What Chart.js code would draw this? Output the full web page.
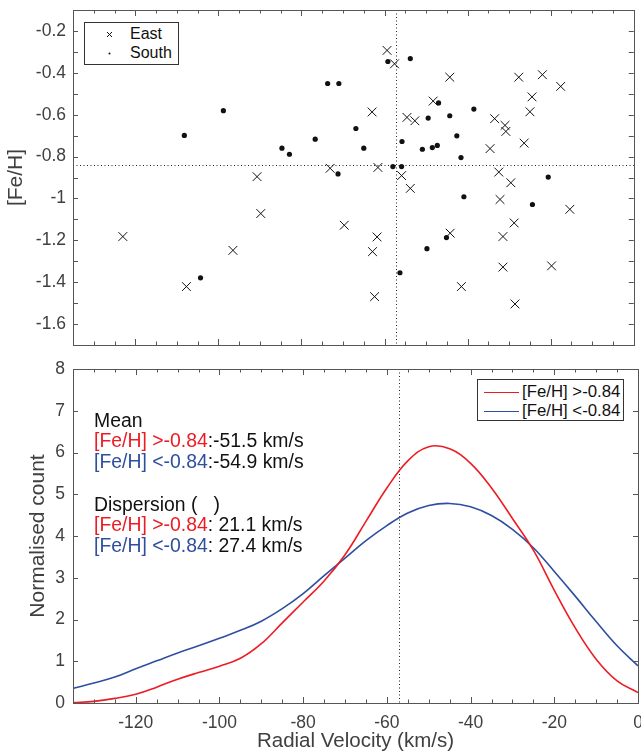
<!DOCTYPE html>
<html>
<head>
<meta charset="utf-8">
<script src="https://cdn.jsdelivr.net/npm/chart.js@4.4.1/dist/chart.umd.min.js"></script>
<style>
  body { margin: 0; background: #fff; font-family: 'Liberation Sans', Arial, Helvetica, sans-serif; }
  #wrap { position: relative; width: 641px; height: 752px; overflow: hidden; }
  canvas { position: absolute; left: 0; }
  .box { position: absolute; background: #fff; border: 1px solid #333; box-sizing: border-box; }
  .row { position: absolute; white-space: nowrap; color: #111; }
  .note { position: absolute; left: 94px; font-size: 19.4px; line-height: 20px; color: #111; white-space: nowrap; }
  .r { color: #ec1c24; }
  .b { color: #2e4f9f; }
</style>
</head>
<body>
<div id="wrap">
  <canvas id="scatter" width="641" height="355" style="top:0"></canvas>
  <canvas id="density" width="641" height="397" style="top:355px"></canvas>

  <div class="box" style="left:84px;top:22px;width:95px;height:43px;">
    <svg style="position:absolute;left:21px;top:8px" width="7" height="7"><path d="M1 1L6 6M6 1L1 6" stroke="#111" stroke-width="1"/></svg>
    <div class="row" style="left:45px;top:1px;font-size:16px;line-height:20px;">East</div>
    <svg style="position:absolute;left:22px;top:28px" width="5" height="5"><circle cx="2.5" cy="2.5" r="1" fill="#111"/></svg>
    <div class="row" style="left:45px;top:20px;font-size:16px;line-height:20px;">South</div>
  </div>

  <div class="box" style="left:477px;top:379px;width:147px;height:42px;">
    <div style="position:absolute;left:6px;top:12px;width:35px;border-top:1.5px solid #ec1c24;"></div>
    <div class="row" style="left:44px;top:2px;font-size:16.8px;line-height:20px;">[Fe/H] &gt;-0.84</div>
    <div style="position:absolute;left:6px;top:31px;width:35px;border-top:1.5px solid #2e4f9f;"></div>
    <div class="row" style="left:44px;top:21px;font-size:16.8px;line-height:20px;">[Fe/H] &lt;-0.84</div>
  </div>

  <div class="note" style="top:410px">Mean</div>
  <div class="note" style="top:430px"><span class="r">[Fe/H] &gt;-0.84</span>:-51.5 km/s</div>
  <div class="note" style="top:450.5px"><span class="b">[Fe/H] &lt;-0.84</span>:-54.9 km/s</div>
  <div class="note" style="top:494px">Dispersion (&nbsp;&nbsp;&nbsp;)</div>
  <div class="note" style="top:514px"><span class="r">[Fe/H] &gt;-0.84</span>: 21.1 km/s</div>
  <div class="note" style="top:534.5px"><span class="b">[Fe/H] &lt;-0.84</span>: 27.4 km/s</div>
</div>

<script>
// East field stars (x markers)
const eastVel = [-59.4, -57.6, -63.0, -48.3, -54.6, -52.7, -73.1, -61.6, -55.9, -90.7,
  -44.3, -27.7, -22.0, -17.6, -24.5, -25.0, -33.5, -31.0, -30.8, -26.4,
  -34.6, -32.5, -123.0, -107.7, -96.5, -53.8, -89.8, -69.7, -61.8, -62.9,
  -62.4, -29.6, -32.2, -15.4, -28.8, -44.2, -31.5, -31.5, -19.8, -41.5, -28.6];
const eastFeH = [-0.293, -0.357, -0.587, -0.535, -0.613, -0.629, -0.856, -0.852, -0.891, -0.896,
  -0.421, -0.421, -0.409, -0.465, -0.515, -0.586, -0.619, -0.651, -0.680, -0.736,
  -0.762, -0.874, -1.182, -1.421, -1.248, -0.952, -1.072, -1.128, -1.184, -1.254,
  -1.469, -0.925, -1.005, -1.052, -1.117, -1.166, -1.182, -1.328, -1.322, -1.421, -1.504];

// South field stars (dots)
const southVel = [-108.2, -98.8, -59.2, -53.8, -73.7, -71.0, -47.0, -49.5, -66.9, -76.7,
  -84.7, -82.9, -65.0, -55.8, -50.9, -48.5, -47.3, -71.2, -58.0, -55.9,
  -44.3, -38.5, -42.6, -41.6, -20.6, -104.3, -56.3, -49.8, -40.9, -24.4, -45.1];
const southFeH = [-0.699, -0.581, -0.346, -0.332, -0.451, -0.451, -0.544, -0.616, -0.666, -0.717,
  -0.760, -0.789, -0.760, -0.728, -0.765, -0.757, -0.747, -0.883, -0.848, -0.848,
  -0.605, -0.573, -0.701, -0.805, -0.898, -1.379, -1.355, -1.240, -0.992, -1.029, -1.187];

// smoothed velocity distributions
const velGrid = [-135, -130, -125, -120, -115, -110, -105, -100, -95, -90, -85, -80, -75, -70,
  -65, -60, -55, -50, -45, -40, -35, -30, -25, -20, -15, -10, -5, 0];
const countMetalRich = [0.01, 0.04, 0.11, 0.21, 0.38, 0.57, 0.73, 0.88, 1.07, 1.42, 1.92, 2.42, 2.92, 3.55,
  4.35, 5.15, 5.80, 6.14, 6.09, 5.74, 5.15, 4.42, 3.66, 2.70, 1.80, 1.05, 0.53, 0.25];
const countMetalPoor = [0.35, 0.48, 0.62, 0.82, 1.01, 1.20, 1.37, 1.55, 1.74, 1.96, 2.26, 2.62, 3.05, 3.47,
  3.89, 4.25, 4.55, 4.73, 4.78, 4.70, 4.49, 4.16, 3.72, 3.15, 2.56, 1.95, 1.37, 0.89];

const meanVel = -57.2;
const feHCut = -0.84;

const FONT = "'Liberation Sans', Arial, Helvetica, sans-serif";
Chart.defaults.font.family = FONT;
Chart.defaults.color = '#404040';

// dotted reference lines, box and inward ticks like the original figure
const framePlugin = {
  id: 'frame',
  beforeDatasetsDraw(chart, args, opts) {
    const { ctx, chartArea: a, scales: { x, y } } = chart;
    ctx.save();
    ctx.strokeStyle = '#222';
    ctx.lineWidth = 1;
    ctx.setLineDash([1, 2.5]);
    if (opts.vLine != null) {
      const px = Math.round(x.getPixelForValue(opts.vLine)) + 0.5;
      ctx.beginPath(); ctx.moveTo(px, a.top); ctx.lineTo(px, a.bottom); ctx.stroke();
    }
    if (opts.hLine != null) {
      const py = Math.round(y.getPixelForValue(opts.hLine)) + 0.5;
      ctx.beginPath(); ctx.moveTo(a.left, py); ctx.lineTo(a.right, py); ctx.stroke();
    }
    ctx.restore();
  },
  afterDatasetsDraw(chart) {
    const { ctx, chartArea: a, scales: { x, y } } = chart;
    ctx.save();
    ctx.strokeStyle = '#555';
    ctx.lineWidth = 1;
    ctx.beginPath();
    x.ticks.forEach(t => {
      const px = Math.round(x.getPixelForValue(t.value)) + 0.5;
      const len = Math.round(t.value) % 20 === 0 ? 6 : 3.5;
      ctx.moveTo(px, a.bottom); ctx.lineTo(px, a.bottom - len);
      ctx.moveTo(px, a.top); ctx.lineTo(px, a.top + len);
    });
    y.ticks.forEach(t => {
      const py = Math.round(y.getPixelForValue(t.value)) + 0.5;
      ctx.moveTo(a.left, py); ctx.lineTo(a.left + 5, py);
      ctx.moveTo(a.right, py); ctx.lineTo(a.right - 5, py);
    });
    ctx.stroke();
    ctx.strokeRect(Math.round(a.left) + 0.5, Math.round(a.top) + 0.5,
      Math.round(a.right - a.left), Math.round(a.bottom - a.top));
    ctx.restore();
  }
};

function velocityAxis(showLabels, height) {
  return {
    type: 'linear',
    min: -135,
    max: 0,
    grid: { display: false, drawTicks: false },
    border: { display: false },
    ticks: {
      display: showLabels,
      stepSize: 5,
      autoSkip: false,
      maxRotation: 0,
      padding: 10,
      font: { size: 17.5 },
      callback: v => (Math.round(v) % 20 === 0 ? String(Math.round(v)) : '')
    },
    title: {
      display: showLabels,
      text: 'Radial Velocity (km/s)',
      font: { size: 20.5, lineHeight: 1 },
      padding: { top: 0, bottom: 0 }
    },
    afterFit: s => { s.height = height; s.paddingLeft = 0; s.paddingRight = 0; }
  };
}

new Chart(document.getElementById('scatter'), {
  type: 'scatter',
  data: {
    datasets: [{
      label: 'East',
      data: eastVel.map((v, i) => ({ x: v, y: eastFeH[i] })),
      pointStyle: 'crossRot',
      pointRadius: 6.2,
      borderColor: '#111',
      borderWidth: 1,
      backgroundColor: 'transparent'
    }, {
      label: 'South',
      data: southVel.map((v, i) => ({ x: v, y: southFeH[i] })),
      pointStyle: 'circle',
      pointRadius: 2.6,
      borderWidth: 0,
      backgroundColor: '#111'
    }]
  },
  options: {
    responsive: false,
    animation: false,
    devicePixelRatio: 1,
    layout: { padding: { top: 10, right: 3, left: 0, bottom: 0 } },
    plugins: {
      legend: { display: false },
      tooltip: { enabled: false },
      frame: { vLine: meanVel, hLine: feHCut }
    },
    scales: {
      x: velocityAxis(false, 10),
      y: {
        min: -1.7,
        max: -0.1,
        grid: { display: false, drawTicks: false },
        border: { display: false },
        ticks: {
          stepSize: 0.1,
          autoSkip: false,
          padding: 7,
          font: { size: 17.5 },
          callback: v => {
            const k = Math.round(v * 10);
            return k % 2 === 0 ? String(k / 10) : '';
          }
        },
        title: { display: true, text: '[Fe/H]', font: { size: 21, lineHeight: 1 }, padding: { top: 6, bottom: 0 } },
        afterFit: s => { s.width = 73; s.paddingTop = 0; s.paddingBottom = 0; }
      }
    }
  },
  plugins: [framePlugin]
});

new Chart(document.getElementById('density'), {
  type: 'line',
  data: {
    datasets: [{
      label: '[Fe/H] >-0.84',
      data: velGrid.map((v, i) => ({ x: v, y: countMetalRich[i] })),
      borderColor: '#ec1c24',
      borderWidth: 1.6,
      pointRadius: 0,
      tension: 0.4,
      fill: false
    }, {
      label: '[Fe/H] <-0.84',
      data: velGrid.map((v, i) => ({ x: v, y: countMetalPoor[i] })),
      borderColor: '#2e4f9f',
      borderWidth: 1.6,
      pointRadius: 0,
      tension: 0.4,
      fill: false
    }]
  },
  options: {
    responsive: false,
    animation: false,
    devicePixelRatio: 1,
    layout: { padding: { top: 14, right: 3, left: 0, bottom: 0 } },
    plugins: {
      legend: { display: false },
      tooltip: { enabled: false },
      frame: { vLine: meanVel }
    },
    scales: {
      x: velocityAxis(true, 49),
      y: {
        min: 0,
        max: 8,
        grid: { display: false, drawTicks: false },
        border: { display: false },
        ticks: { stepSize: 1, padding: 8, font: { size: 17.5 } },
        title: { display: true, text: 'Normalised count', font: { size: 21, lineHeight: 1 }, padding: { top: 28, bottom: 0 } },
        afterFit: s => { s.width = 73; s.paddingTop = 0; s.paddingBottom = 0; }
      }
    }
  },
  plugins: [framePlugin]
});
</script>
</body>
</html>
